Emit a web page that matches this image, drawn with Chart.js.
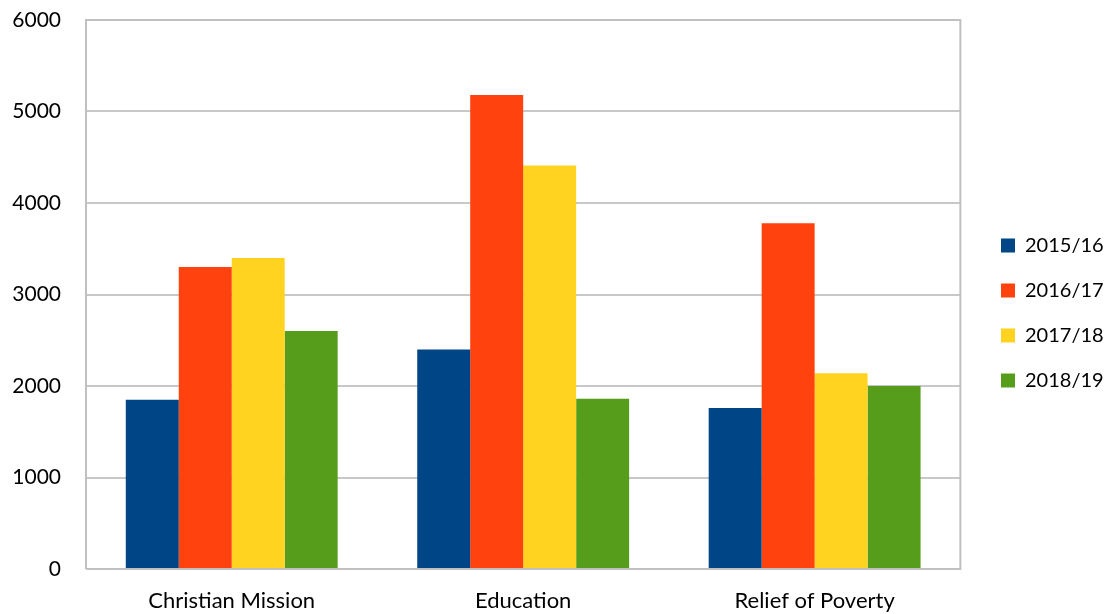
<!DOCTYPE html>
<html>
<head>
<meta charset="utf-8">
<script src="https://cdn.jsdelivr.net/npm/chart.js@4"></script>
<style>
html,body{margin:0;padding:0;background:#fff;}
#wrap{width:1107px;height:614px;}
</style>
</head>
<body>
<div id="wrap"><canvas id="c"></canvas></div>
<script>
const categories = ["Christian Mission", "Education", "Relief of Poverty"];
const seriesNames = ["2015/16", "2016/17", "2017/18", "2018/19"];
const s2015 = [1850, 2400, 1760];
const s2016 = [3300, 5180, 3780];
const s2017 = [3400, 4410, 2140];
const s2018 = [2600, 1860, 2000];
const yTicks = [0, 1000, 2000, 3000, 4000, 5000, 6000];
const colors = ["#004586", "#ff420e", "#ffd320", "#579d1c"];
const values = [s2015, s2016, s2017, s2018];

const frame = {
  id: 'frame',
  afterLayout(chart) {
    const lg = chart.legend;
    if (lg) {
      const w = lg.width, h = lg.height;
      lg.left = 1001 - 25;
      lg.right = lg.left + w;
      lg.top = lg.top - 4;
      lg.bottom = lg.top + h;
    }
  },
  afterDatasetsDraw(chart) {
    const {ctx, chartArea: a} = chart;
    ctx.save();
    ctx.strokeStyle = '#c0c0c0';
    ctx.lineWidth = 2;
    ctx.beginPath();
    ctx.moveTo(a.left, a.bottom);
    ctx.lineTo(a.left, a.top);
    ctx.lineTo(a.right, a.top);
    ctx.lineTo(a.right, a.bottom);
    ctx.lineTo(a.left, a.bottom);
    ctx.stroke();
    ctx.restore();
  }
};

new Chart(document.getElementById('c'), {
  type: 'bar',
  data: {
    labels: categories,
    datasets: seriesNames.map((n, i) => ({
      label: n,
      data: values[i],
      backgroundColor: colors[i],
      borderWidth: 0,
      categoryPercentage: 0.727,
      barPercentage: 1.0
    }))
  },
  options: {
    responsive: true,
    maintainAspectRatio: false,
    animation: false,
    layout: {padding: {left: 0, right: 9, top: 20, bottom: 0}},
    plugins: {
      legend: {
        position: 'right',
        labels: {
          boxWidth: 14, boxHeight: 14, padding: 25,
          color: '#000',
          font: {family: 'Lato', size: 20}
        }
      },
      tooltip: {enabled: false}
    },
    scales: {
      x: {
        grid: {display: false, drawTicks: false},
        border: {display: false},
        afterFit: (s) => { s.height = 45; s.paddingBottom = 0; s.paddingTop = 0; },
        ticks: {color: '#000', font: {family: 'Lato', size: 22}, padding: 19}
      },
      y: {
        min: 0, max: 6000,
        afterBuildTicks: (s) => { s.ticks = yTicks.map(v => ({value: v})); },
        afterFit: (s) => { s.width = 86; s.paddingTop = 0; s.paddingBottom = 0; },
        ticks: {color: '#000', font: {family: 'Lato', size: 21}, padding: 25,
                callback: (v) => String(v)},
        grid: {color: '#c8c8c8', lineWidth: 2, drawTicks: false},
        border: {display: false}
      }
    }
  },
  plugins: [frame]
});
</script>
</body>
</html>
